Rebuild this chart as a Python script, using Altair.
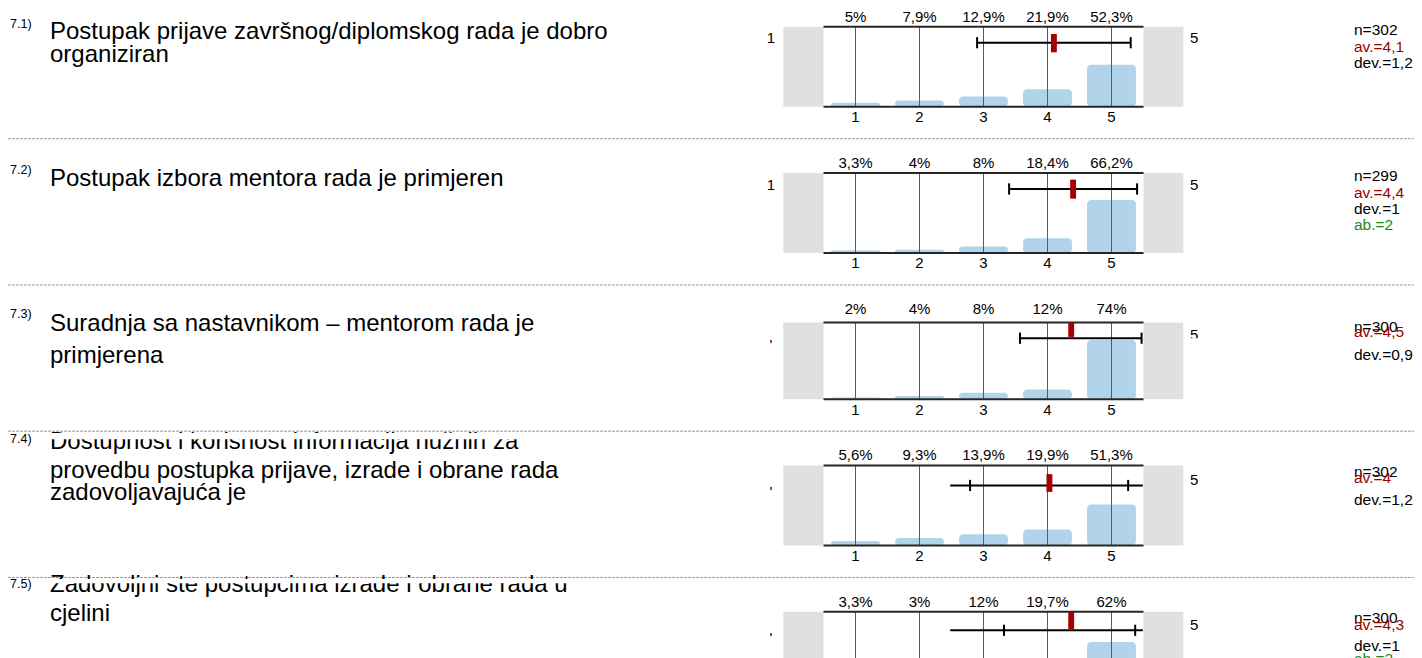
import altair as alt
import pandas as pd

# ---------------- data ----------------
codes = ["7.1)", "7.2)", "7.3)", "7.4)", "7.5)"]
question_lines = [
    ["Postupak prijave završnog/diplomskog rada je dobro", "organiziran"],
    ["Postupak izbora mentora rada je primjeren"],
    ["Suradnja sa nastavnikom – mentorom rada je", "primjerena"],
    ["Dostupnost i korisnost informacija nužnih za",
     "provedbu postupka prijave, izrade i obrane rada", "zadovoljavajuća je"],
    ["Zadovoljni ste postupcima izrade i obrane rada u", "cjelini"],
]
categories = [1, 2, 3, 4, 5]
percents = [
    [5, 7.9, 12.9, 21.9, 52.3],
    [3.3, 4, 8, 18.4, 66.2],
    [2, 4, 8, 12, 74],
    [5.6, 9.3, 13.9, 19.9, 51.3],
    [3.3, 3, 12, 19.7, 62],
]
n_resp = [302, 299, 300, 302, 300]
av_text = ["4,1", "4,4", "4,5", "4", "4,3"]
dev_text = ["1,2", "1", "0,9", "1,2", "1"]
ab_text = ["", "2", "", "", "2"]
left_label = ["1", "1", "'", "'", "'"]
right_label = ["5", "5", "5", "5", "5"]
# mean marker and error-bar extents as drawn
marker_pos = [4.1, 4.4, 4.37, 4.03, 4.37]
err_lo = [2.9, 3.4, 3.57, 2.48, 2.48]
err_hi = [5.3, 5.4, 5.47, 5.49, 5.49]
cap_lo = [2.9, 3.4, 3.57, 2.79, 3.32]
cap_hi = [5.3, 5.4, 5.47, 5.26, 5.37]

# ---------------- layout ----------------
W, H = 1406, 650
PXU = 64.0                      # px per answer unit
X0 = 1 - (855.5 - 8) / PXU
X1 = X0 + W / PXU
PXP = 0.8                       # px per percent
ROW_BOTTOM = [106.7 + 146.25 * r for r in range(5)]   # page px of bottom axis line
PLOT_TOP = [100, 100, 96, 100, 100]                    # percent value of the top frame line


def ux(px):
    return X0 + (px - 8) / PXU


def uy(py):
    return (8 + H - py) / PXP


xs = alt.Scale(domain=[X0, X1], nice=False, zero=False)
ys = alt.Scale(domain=[0, H / PXP], nice=False, zero=False)


def X(f="x"):
    return alt.X(f"{f}:Q", scale=xs, axis=None)


def Y(f="y"):
    return alt.Y(f"{f}:Q", scale=ys, axis=None)


base_u = [uy(b) for b in ROW_BOTTOM]

# offsets above row bottom, px (question lines are alphabetic baselines)
q_off = [[67.4, 45], [67.4], [68.7, 36.7], [96.4, 67.4, 45.4], [99.7, 71.2]]
code_off = [83, 83, 85, 106, 108]
err_off = [64, 64, 61, 60, 61.4]
mark_off = [(54.4, 72.7), (54.3, 73.3), (62.3, 76.6), (53.6, 71.3), (62.7, 79.7)]
left_off = [68.4, 68.4, 53.8, 53.5, 54.2]
right_off = [68.4, 68.3, 64, 65, 66.7]
stat_off = [
    [76.7, 60, 44, 28],
    [76.7, 60, 44, 28],
    [72.6, 67.6, 44.3, 28],
    [73.6, 67, 45.3, 28],
    [73.6, 67, 45.3, 33],
]
STAT_X = 1354

bars, vlines, frame, boxes, pct_lab, tick_lab = [], [], [], [], [], []
errs, caps, marks, qtext, ctext, ll, rl, stats, seps, covers = [], [], [], [], [], [], [], [], [], []
for r in range(5):
    b = base_u[r]
    B = ROW_BOTTOM[r]
    top = b + PLOT_TOP[r]
    for c, p in zip(categories, percents[r]):
        bars.append(dict(x=c - 0.382, x2=c + 0.382, y=b, y2=b + p))
        vlines.append(dict(x=c, y=b, y2=top))
        lab = (f"{p:g}".replace(".", ",")) + "%"
        pct_lab.append(dict(x=c, y=uy(B - 90), t=lab))
        tick_lab.append(dict(x=c, y=uy(B + 10.3), t=str(c)))
    frame.append(dict(x=0.5, x2=5.5, y=b))
    frame.append(dict(x=0.5, x2=5.5, y=top))
    boxes.append(dict(x=ux(783.3), x2=0.5, y=b, y2=top))
    boxes.append(dict(x=5.5, x2=ux(1183.3), y=b, y2=top))
    ey = uy(B - err_off[r])
    errs.append(dict(x=err_lo[r], x2=err_hi[r], y=ey))
    for cp in (cap_lo[r], cap_hi[r]):
        caps.append(dict(x=cp, y=ey - 7, y2=ey + 7))
    lo, hi = mark_off[r]
    marks.append(dict(x=marker_pos[r] - 0.046, x2=marker_pos[r] + 0.046,
                      y=uy(B - lo), y2=uy(B - hi)))
    for t, off in zip(question_lines[r], q_off[r]):
        qtext.append(dict(x=ux(50), y=uy(B - off), t=t))
    ctext.append(dict(x=ux(10), y=uy(B - code_off[r]), t=codes[r]))
    ll.append(dict(x=ux(771), y=uy(B - left_off[r]), t=left_label[r]))
    rl.append(dict(x=ux(1190), y=uy(B - right_off[r]), t=right_label[r]))
    so = stat_off[r]
    stats.append(dict(x=ux(STAT_X), y=uy(B - so[0]), t=f"n={n_resp[r]}", col="#000000"))
    stats.append(dict(x=ux(STAT_X), y=uy(B - so[1]), t=f"av.={av_text[r]}", col="#990000"))
    stats.append(dict(x=ux(STAT_X), y=uy(B - so[2]), t=f"dev.={dev_text[r]}", col="#000000"))
    if ab_text[r]:
        stats.append(dict(x=ux(STAT_X), y=uy(B - so[3]), t=f"ab.={ab_text[r]}", col="#1a8a1a"))
    if r < 4:
        seps.append(dict(y=uy(B + 32)))

# white covers reproducing the clipped first lines of 7.4 and 7.5 and the cut "5" of 7.3
covers.append(dict(x=ux(45), x2=ux(660), y=uy(ROW_BOTTOM[3] - 112.5), y2=uy(ROW_BOTTOM[3] - 106.2)))
covers.append(dict(x=ux(45), x2=ux(660), y=uy(ROW_BOTTOM[4] - 112.8), y2=uy(ROW_BOTTOM[4] - 108.5)))
covers.append(dict(x=ux(1186), x2=ux(1210), y=uy(ROW_BOTTOM[2] - 61), y2=uy(ROW_BOTTOM[2] - 50)))

FONT = "Liberation Sans"

boxes_l = alt.Chart(pd.DataFrame(boxes)).mark_rect(color="#e0e0e0", clip=True).encode(
    x=X(), x2="x2:Q", y=Y(), y2="y2:Q")
bars_l = alt.Chart(pd.DataFrame(bars)).mark_rect(
    color="#b2d4ea", cornerRadius=4, clip=True).encode(x=X(), x2="x2:Q", y=Y(), y2="y2:Q")
vl_l = alt.Chart(pd.DataFrame(vlines)).mark_rule(color="#2564b4", strokeWidth=1, clip=True).encode(
    x=X(), y=Y(), y2="y2:Q")
fr_l = alt.Chart(pd.DataFrame(frame)).mark_rule(color="#262626", strokeWidth=2, clip=True).encode(
    x=X(), x2="x2:Q", y=Y())
err_l = alt.Chart(pd.DataFrame(errs)).mark_rule(color="#000000", strokeWidth=2, clip=True).encode(
    x=X(), x2="x2:Q", y=Y())
cap_l = alt.Chart(pd.DataFrame(caps)).mark_rule(color="#000000", strokeWidth=2, clip=True).encode(
    x=X(), y=Y(), y2="y2:Q")
mk_l = alt.Chart(pd.DataFrame(marks)).mark_rect(color="#a80000", clip=True).encode(
    x=X(), x2="x2:Q", y=Y(), y2="y2:Q")
pl_l = alt.Chart(pd.DataFrame(pct_lab)).mark_text(
    font=FONT, fontSize=15, color="#000000", baseline="middle", align="center", clip=True).encode(
    x=X(), y=Y(), text="t:N")
tl_l = alt.Chart(pd.DataFrame(tick_lab)).mark_text(
    font=FONT, fontSize=15, color="#000000", baseline="middle", align="center", clip=True).encode(
    x=X(), y=Y(), text="t:N")
q_l = alt.Chart(pd.DataFrame(qtext)).mark_text(
    font=FONT, fontSize=24, color="#000000", baseline="alphabetic", align="left", clip=True).encode(
    x=X(), y=Y(), text="t:N")
c_l = alt.Chart(pd.DataFrame(ctext)).mark_text(
    font=FONT, fontSize=12.5, color="#000000", baseline="middle", align="left", clip=True).encode(
    x=X(), y=Y(), text="t:N")
ll_l = alt.Chart(pd.DataFrame(ll)).mark_text(
    font=FONT, fontSize=15, color="#000000", baseline="middle", align="center", clip=True).encode(
    x=X(), y=Y(), text="t:N")
rl_l = alt.Chart(pd.DataFrame(rl)).mark_text(
    font=FONT, fontSize=15, color="#000000", baseline="middle", align="left", clip=True).encode(
    x=X(), y=Y(), text="t:N")
st_l = alt.Chart(pd.DataFrame(stats)).mark_text(
    font=FONT, fontSize=15.5, baseline="middle", align="left", clip=True).encode(
    x=X(), y=Y(), text="t:N", color=alt.Color("col:N", scale=None))
sep_l = alt.Chart(pd.DataFrame(seps)).mark_rule(
    color="#9a9a9a", strokeWidth=1, strokeDash=[3, 1], clip=True).encode(
    x=alt.value(0), x2=alt.value(W), y=Y())
cov_l = alt.Chart(pd.DataFrame(covers)).mark_rect(color="#ffffff", clip=True).encode(
    x=X(), x2="x2:Q", y=Y(), y2="y2:Q")

chart = alt.layer(
    sep_l, boxes_l, bars_l, vl_l, fr_l, err_l, cap_l, mk_l,
    pl_l, tl_l, q_l, c_l, ll_l, rl_l, st_l, cov_l,
).properties(
    width=W, height=H, padding=0,
    autosize=alt.AutoSizeParams(type="fit", contains="padding"),
).configure_view(stroke=None)

chart.save("out.html", embed_options={"renderer": "svg", "actions": False})
